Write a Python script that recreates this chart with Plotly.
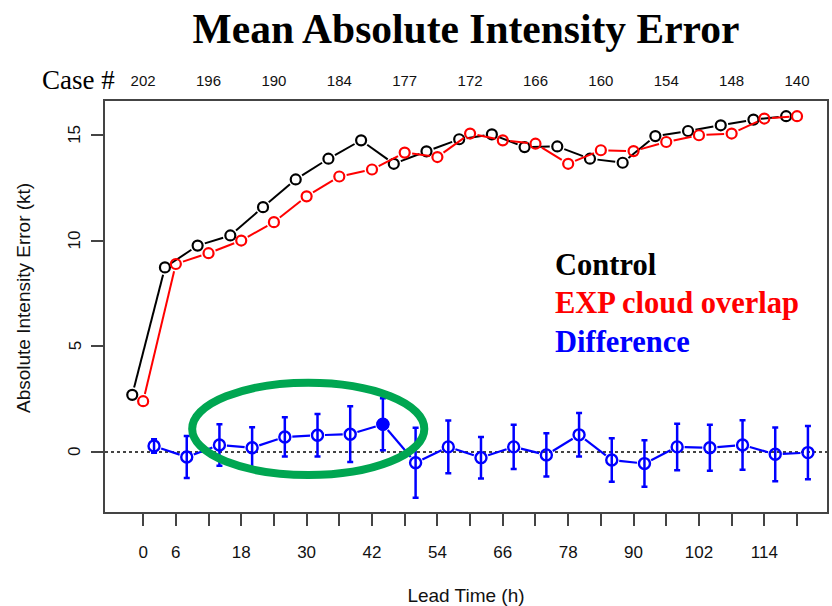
import math
import plotly.graph_objects as go

# ---------------- data ----------------
ctrl_hours = [-2, 4, 10, 16, 22, 28, 34, 40, 46, 52, 58, 64, 70, 76, 82, 88, 94, 100, 106, 112, 118]
ctrl_err = [2.70, 8.73, 9.76, 10.24, 11.58, 12.89, 13.87, 14.74, 13.63, 14.22, 14.79,
            15.02, 14.42, 14.45, 13.87, 13.68, 14.94, 15.18, 15.45, 15.72, 15.88]

exp_hours = [0, 6, 12, 18, 24, 30, 36, 42, 48, 54, 60, 66, 72, 78, 84, 90, 96, 102, 108, 114, 120]
exp_err = [2.40, 8.89, 9.40, 10.00, 10.87, 12.09, 13.03, 13.36, 14.16, 13.95, 15.06,
           14.74, 14.58, 13.63, 14.27, 14.23, 14.66, 14.98, 15.06, 15.77, 15.88]

diff_hours = [2, 8, 14, 20, 26, 32, 38, 44, 50, 56, 62, 68, 74, 80, 86, 92, 98, 104, 110, 116, 122]
diff_val = [0.28, -0.24, 0.33, 0.20, 0.71, 0.79, 0.84, 1.31, -0.51, 0.24, -0.27,
            0.24, -0.14, 0.81, -0.38, -0.55, 0.24, 0.20, 0.33, -0.11, -0.03]
diff_ci = [0.32, 0.99, 0.98, 0.97, 0.93, 1.01, 1.32, 1.23, 1.66, 1.25, 0.98,
           1.05, 1.02, 1.03, 1.03, 1.10, 1.10, 1.09, 1.17, 1.27, 1.26]
highlight_index = 7  # significant difference (filled marker)

case_hours = [0, 12, 24, 36, 48, 60, 72, 84, 96, 108, 120]
case_counts = [202, 196, 190, 184, 177, 172, 166, 160, 154, 148, 140]

tick_hours = list(range(0, 121, 6))
tick_labels = ["0", "6", "", "18", "", "30", "", "42", "", "54", "", "66", "", "78",
               "", "90", "", "102", "", "114", ""]
y_ticks = [0, 5, 10, 15]

legend_names = ["Control", "EXP cloud overlap", "Difference"]

# ---------------- geometry ----------------
X_RANGE = [-7.0, 125.5]
Y_RANGE = [-2.84, 16.6]
W, H = 832, 606
M_L, M_R, M_T, M_B = 105, 5, 101, 94
PLOT_W = W - M_L - M_R
PLOT_H = H - M_T - M_B

BLACK = "#000000"
RED = "#FF0000"
BLUE = "#0000FF"
GREEN = "#00A651"


def gapped(xs, ys, gap=7.5):
    """Line segments between points with gaps around markers (R type='b')."""
    sx = PLOT_W / (X_RANGE[1] - X_RANGE[0])
    sy = PLOT_H / (Y_RANGE[1] - Y_RANGE[0])
    ox, oy = [], []
    for i in range(len(xs) - 1):
        dx = (xs[i + 1] - xs[i]) * sx
        dy = (ys[i + 1] - ys[i]) * sy
        L = math.hypot(dx, dy)
        if L <= 2 * gap:
            continue
        f = gap / L
        ox += [xs[i] + f * (xs[i + 1] - xs[i]), xs[i + 1] - f * (xs[i + 1] - xs[i]), None]
        oy += [ys[i] + f * (ys[i + 1] - ys[i]), ys[i + 1] - f * (ys[i + 1] - ys[i]), None]
    return ox, oy


fig = go.Figure()

for hrs, vals, col in [(ctrl_hours, ctrl_err, BLACK), (exp_hours, exp_err, RED)]:
    lx, ly = gapped(hrs, vals)
    fig.add_trace(go.Scatter(x=lx, y=ly, mode="lines", line=dict(color=col, width=2),
                             hoverinfo="skip"))
    fig.add_trace(go.Scatter(x=hrs, y=vals, mode="markers",
                             marker=dict(symbol="circle-open", size=10, color=col,
                                         line=dict(width=2.2, color=col))))

lx, ly = gapped(diff_hours, diff_val)
fig.add_trace(go.Scatter(x=lx, y=ly, mode="lines", line=dict(color=BLUE, width=2.2),
                         hoverinfo="skip"))
fig.add_trace(go.Scatter(x=diff_hours, y=diff_val, mode="markers",
                         marker=dict(symbol="circle-open", size=11, color=BLUE,
                                     line=dict(width=2.4, color=BLUE)),
                         error_y=dict(type="data", array=diff_ci, visible=True,
                                      color=BLUE, thickness=2.5, width=3)))
fig.add_trace(go.Scatter(x=[diff_hours[highlight_index]], y=[diff_val[highlight_index]],
                         mode="markers",
                         marker=dict(symbol="circle", size=13, color=BLUE)))

# invisible trace to activate the top (case count) axis
fig.add_trace(go.Scatter(x=case_hours, y=[0] * len(case_hours), xaxis="x2", mode="markers",
                         marker=dict(opacity=0), hoverinfo="skip"))

AXIS_FONT = "Liberation Sans, Arial, sans-serif"
SERIF = "Liberation Serif, Times New Roman, serif"

fig.update_layout(
    width=W, height=H,
    margin=dict(l=M_L, r=M_R, t=M_T, b=M_B),
    paper_bgcolor="white", plot_bgcolor="white",
    showlegend=False,
    title=dict(text="<b>Mean Absolute Intensity Error</b>", x=0.5, xanchor="center",
               xref="paper", y=1 - 28 / H, yanchor="middle",
               font=dict(family=SERIF, size=41.5, color="black")),
    xaxis=dict(range=X_RANGE, tickmode="array", tickvals=tick_hours, ticktext=tick_labels,
               ticks="outside", ticklen=12, tickwidth=1.5, tickcolor="#444",
               showline=True, linecolor="#444", linewidth=1.5, mirror=True,
               showgrid=False, zeroline=False, automargin=False,
               tickfont=dict(family=AXIS_FONT, size=17, color="#111"),
               ticklabelstandoff=12,
               title=dict(text="Lead Time (h)", standoff=32,
                          font=dict(family=AXIS_FONT, size=19, color="#111"))),
    xaxis2=dict(overlaying="x", side="top", range=X_RANGE, tickmode="array",
                tickvals=case_hours, ticktext=[str(c) for c in case_counts],
                ticks="", showline=False, showgrid=False, zeroline=False, automargin=False,
                tickfont=dict(family=AXIS_FONT, size=15, color="#111"),
                ticklabelstandoff=11),
    yaxis=dict(range=Y_RANGE, tickmode="array", tickvals=y_ticks,
               ticks="outside", ticklen=12, tickwidth=1.5, tickcolor="#444",
               showticklabels=False,
               showline=True, linecolor="#444", linewidth=1.5, mirror=True,
               showgrid=False, zeroline=False, automargin=False),
)

# rotated y tick labels (R style) and y-axis title
for v in y_ticks:
    fig.add_annotation(text=str(v), xref="paper", yref="y", x=(75 - M_L) / PLOT_W, y=v,
                       xanchor="center", yanchor="middle", textangle=-90, showarrow=False,
                       font=dict(family=AXIS_FONT, size=17, color="#111"))
fig.add_annotation(text="Absolute Intensity Error (kt)", xref="paper", yref="paper",
                   x=(23 - M_L) / PLOT_W, y=(H - M_B - 298) / PLOT_H,
                   xanchor="center", yanchor="middle", textangle=-90, showarrow=False,
                   font=dict(family=AXIS_FONT, size=19, color="#111"))

fig.add_shape(type="line", xref="paper", x0=0, x1=1, yref="y", y0=0, y1=0,
              line=dict(color="#444", width=2, dash="dot"), layer="below")
fig.add_shape(type="circle", xref="x", yref="y", x0=9.0, x1=51.6, y0=-1.09, y1=3.27,
              line=dict(color=GREEN, width=8), layer="above")

legend_cols = [BLACK, RED, BLUE]
legend_ys = [265, 303, 342]
for name, col, yp in zip(legend_names, legend_cols, legend_ys):
    fig.add_annotation(text="<b>%s</b>" % name, xref="paper", yref="paper",
                       x=(553 - M_L) / PLOT_W, y=(H - M_B - yp) / PLOT_H,
                       xanchor="left", yanchor="middle", showarrow=False,
                       font=dict(family=SERIF, size=30.5, color=col))

fig.add_annotation(text="Case #", xref="paper", yref="paper",
                   x=(40 - M_L) / PLOT_W, y=(H - M_B - 80) / PLOT_H,
                   xanchor="left", yanchor="middle", showarrow=False,
                   font=dict(family=SERIF, size=27, color="black"))

fig.write_html("out.html")
